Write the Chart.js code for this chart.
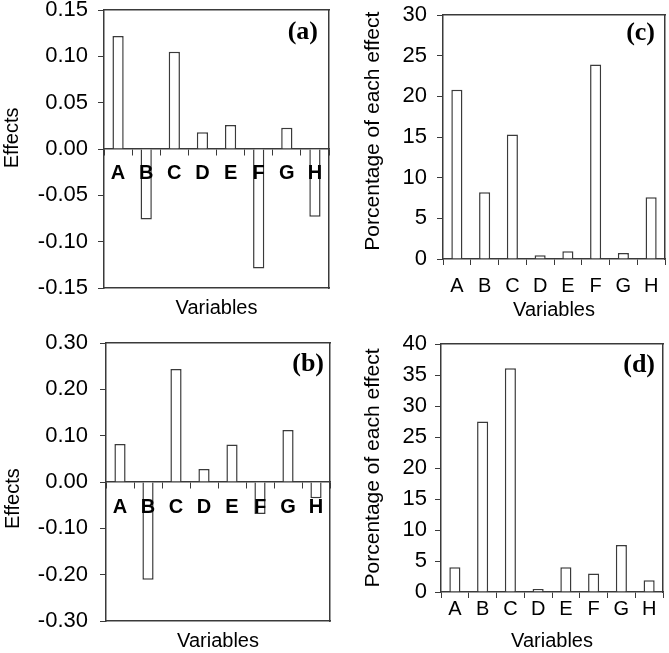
<!DOCTYPE html>
<html><head><meta charset="utf-8">
<script src="https://cdn.jsdelivr.net/npm/chart.js@4.4.1/dist/chart.umd.min.js"></script>
<style>
html,body{margin:0;padding:0;background:#fff;width:669px;height:653px;overflow:hidden}
canvas{position:absolute}
</style></head><body>
<canvas id="ca" style="left:0px;top:0px" width="335" height="326"></canvas>
<canvas id="cb" style="left:0px;top:326px" width="335" height="327"></canvas>
<canvas id="cc" style="left:335px;top:0px" width="334" height="326"></canvas>
<canvas id="cd" style="left:335px;top:326px" width="334" height="327"></canvas>
<script>
// ---- data ----
const variables = ['A','B','C','D','E','F','G','H'];
const effectsA = [0.122, -0.076, 0.105, 0.018, 0.026, -0.129, 0.023, -0.073];
const effectsB = [0.082, -0.211, 0.244, 0.028, 0.081, -0.069, 0.112, -0.035];
const percentC = [20.8, 8.2, 15.3, 0.45, 0.94, 23.9, 0.74, 7.6];
const percentD = [4.0, 27.5, 36.1, 0.5, 4.0, 3.0, 7.6, 1.9];
const effectTicksA = [-0.15, -0.10, -0.05, 0, 0.05, 0.10, 0.15];
const effectTicksB = [-0.30, -0.20, -0.10, 0, 0.10, 0.20, 0.30];
const percentTicksC = [0, 5, 10, 15, 20, 25, 30];
const percentTicksD = [0, 5, 10, 15, 20, 25, 30, 35, 40];
const panelNames = ['(a)', '(b)', '(c)', '(d)'];
const xTitle = 'Variables';
const yTitleEffects = 'Effects';
const yTitlePercent = 'Porcentage of each effect';

// ---- styling ----
const FAMILY = "'Liberation Sans', Arial, sans-serif";
const LINE = '#3a3a3a';
Chart.defaults.font.family = FAMILY;
Chart.defaults.color = '#000';

const panelLabel = {
  id: 'panelLabel',
  afterDraw(chart, args, opts) {
    const {ctx, chartArea} = chart;
    ctx.save();
    ctx.font = "bold 26px 'Liberation Serif', 'Times New Roman', serif";
    ctx.fillStyle = '#000';
    ctx.textAlign = 'right';
    ctx.textBaseline = 'middle';
    ctx.fillText(opts.text, chartArea.right - opts.dx, chartArea.top + opts.dy);
    ctx.restore();
  }
};

function frameAxis(pos) {
  return {
    type: 'linear', position: pos, display: true,
    grid: {display: false, drawTicks: false},
    ticks: {display: false},
    border: {display: true, color: LINE, width: 1.5},
    afterFit: s => { if (pos === 'top') s.height = 0; else s.width = 0; }
  };
}

function makePanel(id, values, ticks, g) {
  const isEffects = g.effects;
  const scales = {
    y: {
      type: 'linear', position: 'left',
      min: ticks[0], max: ticks[ticks.length - 1],
      afterBuildTicks: s => { s.ticks = ticks.map(v => ({value: v})); },
      afterFit: s => { s.width = g.yW; s.paddingTop = 0; s.paddingBottom = 0; },
      grid: {display: true, drawOnChartArea: false, drawTicks: true, tickLength: 6, color: LINE, lineWidth: 1},
      border: {display: true, color: LINE, width: 1.5},
      ticks: {padding: g.yPad, color: '#000', font: {size: 22},
              callback: v => isEffects ? v.toFixed(2) : String(v)},
      title: {display: true, text: g.yTitle, padding: 0, color: '#000', font: {size: g.yTitleSize, lineHeight: 1}}
    },
    x: {
      type: 'category', offset: true,
      position: isEffects ? {y: 0} : 'bottom',
      grid: {display: true, offset: true, drawOnChartArea: false, drawTicks: true, tickLength: 6, color: LINE, lineWidth: 1},
      border: {display: true, color: LINE, width: 1.5},
      ticks: {z: 1, padding: g.xPad, color: '#000', maxRotation: 0, minRotation: 0, autoSkip: false,
              font: {size: 20, weight: isEffects ? 'bold' : 'normal'}},
      title: {display: !isEffects, text: xTitle, padding: 0, color: '#000', font: {size: 20, lineHeight: 1}},
      afterFit: s => { if (!isEffects) s.height = g.xH; s.paddingLeft = 0; s.paddingRight = 0; }
    },
    xT: frameAxis('top'),
    yR: frameAxis('right')
  };
  if (isEffects) {
    scales.xB = {
      type: 'linear', position: 'bottom', display: true,
      grid: {display: false, drawTicks: false},
      ticks: {display: false},
      border: {display: true, color: LINE, width: 1.5},
      title: {display: true, text: xTitle, padding: 0, color: '#000', font: {size: 20, lineHeight: 1}},
      afterFit: s => { s.height = g.xH; }
    };
  }
  return new Chart(document.getElementById(id), {
    type: 'bar',
    data: {
      labels: variables,
      datasets: [{
        data: values, xAxisID: 'x', yAxisID: 'y',
        backgroundColor: '#ffffff', borderColor: LINE, borderWidth: 1.5,
        barPercentage: 0.4, categoryPercentage: 1
      }]
    },
    options: {
      responsive: false, animation: false,
      layout: {padding: {left: g.padL, top: g.padT, right: g.padR, bottom: g.padB}},
      plugins: {
        legend: {display: false}, tooltip: {enabled: false},
        panelLabel: {text: g.label, dx: g.ldx, dy: g.ldy}
      },
      scales
    },
    plugins: [panelLabel]
  });
}

makePanel('ca', effectsA, effectTicksA, {effects: true, label: panelNames[0], yTitle: '    ' + yTitleEffects, yTitleSize: 20,
  padL: 2, padT: 10, padR: 6, padB: 8, yW: 102, yPad: 10, xPad: 6, xH: 30, ldx: 11, ldy: 22});
makePanel('cb', effectsB, effectTicksB, {effects: true, label: panelNames[1], yTitle: yTitleEffects + '      ', yTitleSize: 20,
  padL: 3, padT: 17, padR: 5, padB: 2, yW: 103, yPad: 12, xPad: 7, xH: 30, ldx: 6, ldy: 21});
makePanel('cc', percentC, percentTicksC, {effects: false, label: panelNames[2], yTitle: '  ' + yTitlePercent, yTitleSize: 21,
  padL: 27.5, padT: 15, padR: 4, padB: 6, yW: 80.5, yPad: 10, xPad: 9, xH: 61, ldx: 10, ldy: 18});
makePanel('cd', percentD, percentTicksD, {effects: false, label: panelNames[3], yTitle: yTitlePercent, yTitleSize: 21,
  padL: 27.5, padT: 18, padR: 6, padB: 1.3, yW: 78.5, yPad: 8, xPad: -1, xH: 59.7, ldx: 8, ldy: 21});
</script>
</body></html>
